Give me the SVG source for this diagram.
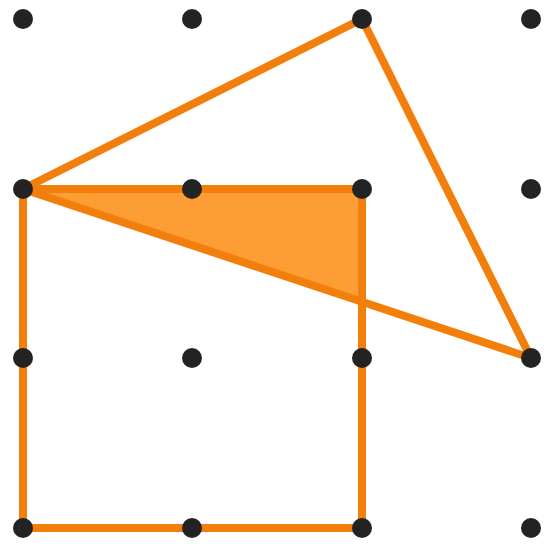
<svg xmlns="http://www.w3.org/2000/svg" width="544" height="544" viewBox="0 0 544 544">
<style>
.ln{fill:none;stroke:#f27f0c;stroke-width:8;stroke-linejoin:round;stroke-linecap:round}
.sh{fill:#fd9e34;stroke:none}
.dot{fill:#232323}
</style>
<rect width="544" height="544" fill="#ffffff"/>
<g id="shaded"><polygon class="sh" points="23,189 362,189 362,302"/></g>
<g id="connectors">
<polygon id="square" class="ln" points="23,189 362,189 362,528 23,528"/>
<polygon id="triangle" class="ln" points="23,189 362,19 531,358"/>
</g>
<g id="dots">
<circle class="dot" cx="23" cy="19" r="10"/><circle class="dot" cx="192" cy="19" r="10"/><circle class="dot" cx="362" cy="19" r="10"/><circle class="dot" cx="531" cy="19" r="10"/>
<circle class="dot" cx="23" cy="189" r="10"/><circle class="dot" cx="192" cy="189" r="10"/><circle class="dot" cx="362" cy="189" r="10"/><circle class="dot" cx="531" cy="189" r="10"/>
<circle class="dot" cx="23" cy="358" r="10"/><circle class="dot" cx="192" cy="358" r="10"/><circle class="dot" cx="362" cy="358" r="10"/><circle class="dot" cx="531" cy="358" r="10"/>
<circle class="dot" cx="23" cy="528" r="10"/><circle class="dot" cx="192" cy="528" r="10"/><circle class="dot" cx="362" cy="528" r="10"/><circle class="dot" cx="531" cy="528" r="10"/>
</g>
</svg>
